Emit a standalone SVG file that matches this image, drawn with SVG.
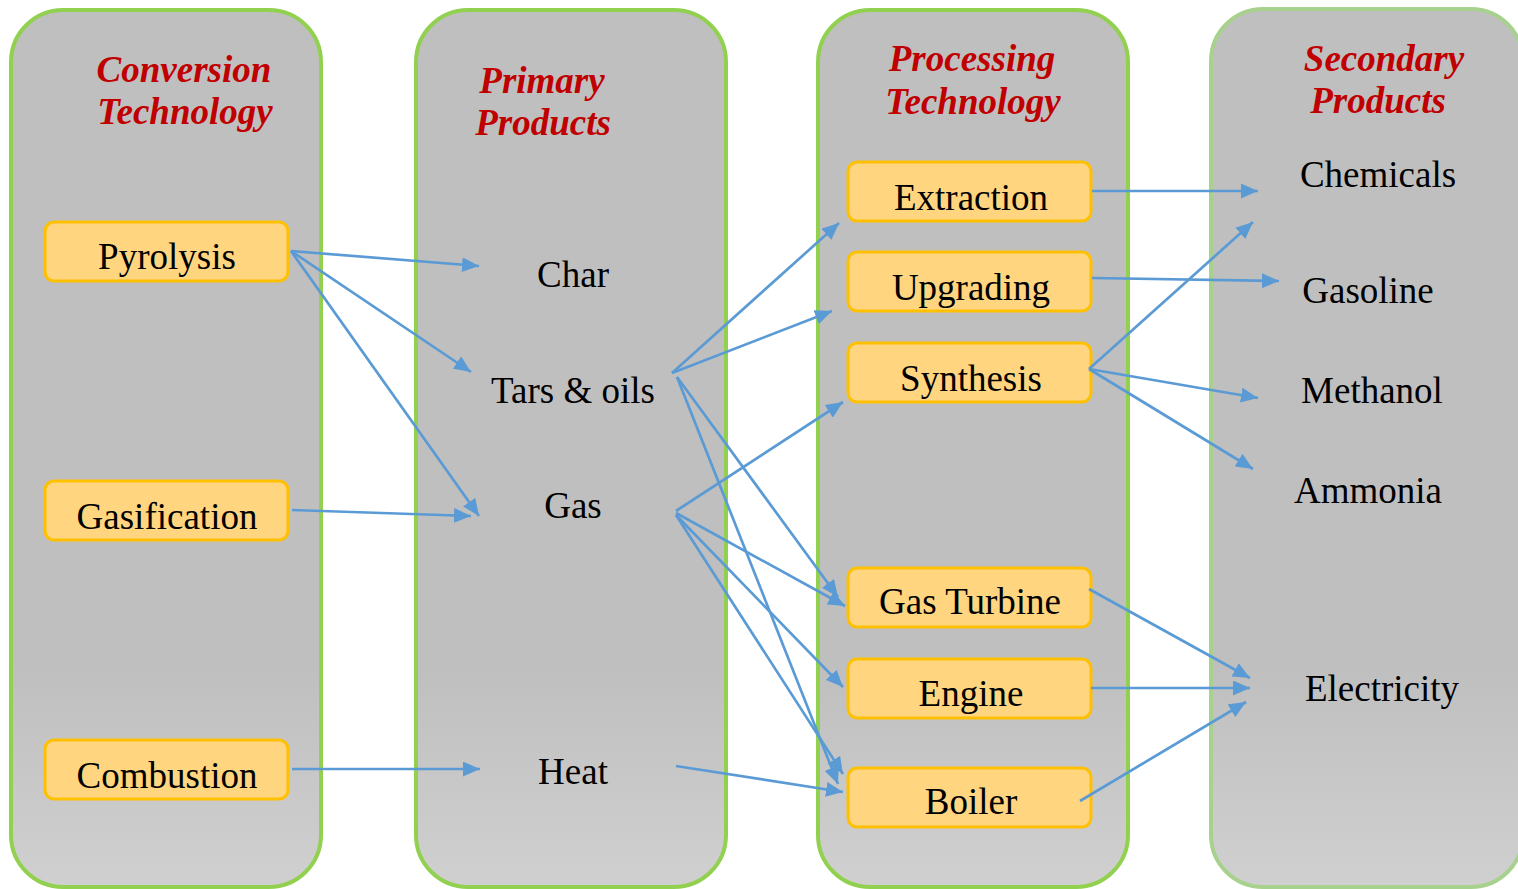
<svg xmlns="http://www.w3.org/2000/svg" width="1518" height="889" viewBox="0 0 1518 889">
<style>
.col{stroke:#92D050;stroke-width:4;fill:url(#colg)}
.col4{stroke:#A9D18E;stroke-width:4;fill:url(#colg)}
.box{fill:#FFD57F;stroke:#FFC000;stroke-width:3}
.hdr{font-family:"Liberation Serif","Times New Roman",serif;font-weight:bold;font-style:italic;font-size:37px;fill:#C00000;text-anchor:middle}
.lbl{font-family:"Liberation Serif","Times New Roman",serif;font-size:37px;fill:#000;text-anchor:middle}
.arr{stroke:#5B9BD5;stroke-width:2.7;fill:none;marker-end:url(#ah)}
</style>
<defs>
<linearGradient id="colg" x1="0" y1="0" x2="0" y2="1">
<stop offset="0" stop-color="#BFBFBF"/>
<stop offset="0.75" stop-color="#BFBFBF"/>
<stop offset="1" stop-color="#D0D0D0"/>
</linearGradient>
<marker id="ah" markerUnits="userSpaceOnUse" markerWidth="17" markerHeight="15" refX="17" refY="7.5" orient="auto">
<path d="M0,0 L17,7.5 L0,15 z" fill="#5B9BD5"/>
</marker>
</defs>
<rect width="1518" height="889" fill="#FFFFFF"/>

<g id="col-conversion">
<rect class="col" x="11" y="10" width="310" height="877" rx="52" ry="52"/>
<text class="hdr" x="184" y="82">Conversion</text>
<text class="hdr" x="185" y="124">Technology</text>
</g>
<g id="col-primary">
<rect class="col" x="416" y="10" width="310" height="877" rx="52" ry="52"/>
<text class="hdr" x="542" y="93">Primary</text>
<text class="hdr" x="543" y="135">Products</text>
</g>
<g id="col-processing">
<rect class="col" x="818" y="10" width="310" height="877" rx="52" ry="52"/>
<text class="hdr" x="972" y="71">Processing</text>
<text class="hdr" x="973" y="114">Technology</text>
</g>
<g id="col-secondary">
<rect class="col4" x="1211" y="9" width="312" height="878" rx="52" ry="52"/>
<text class="hdr" x="1384" y="71">Secondary</text>
<text class="hdr" x="1378" y="113">Products</text>
</g>

<g id="pyrolysis"><rect class="box" x="45" y="222" width="243" height="59" rx="9"/><text class="lbl" x="167" y="269">Pyrolysis</text></g>
<g id="gasification"><rect class="box" x="45" y="481" width="243" height="59" rx="9"/><text class="lbl" x="167" y="529">Gasification</text></g>
<g id="combustion"><rect class="box" x="45" y="740" width="243" height="59" rx="9"/><text class="lbl" x="167" y="788">Combustion</text></g>

<g id="char"><text class="lbl" x="573" y="287">Char</text></g>
<g id="tars"><text class="lbl" x="573" y="403">Tars &amp; oils</text></g>
<g id="gas"><text class="lbl" x="573" y="518">Gas</text></g>
<g id="heat"><text class="lbl" x="573" y="784">Heat</text></g>

<g id="extraction"><rect class="box" x="848" y="162" width="243" height="59" rx="9"/><text class="lbl" x="971" y="210">Extraction</text></g>
<g id="upgrading"><rect class="box" x="848" y="252" width="243" height="59" rx="9"/><text class="lbl" x="971" y="300">Upgrading</text></g>
<g id="synthesis"><rect class="box" x="848" y="343" width="243" height="59" rx="9"/><text class="lbl" x="971" y="391">Synthesis</text></g>
<g id="gasturbine"><rect class="box" x="848" y="568" width="243" height="59" rx="9"/><text class="lbl" x="970" y="614">Gas Turbine</text></g>
<g id="engine"><rect class="box" x="848" y="659" width="243" height="59" rx="9"/><text class="lbl" x="971" y="706">Engine</text></g>
<g id="boiler"><rect class="box" x="848" y="768" width="243" height="59" rx="9"/><text class="lbl" x="971" y="814">Boiler</text></g>

<g id="chemicals"><text class="lbl" x="1378" y="187">Chemicals</text></g>
<g id="gasoline"><text class="lbl" x="1368" y="303">Gasoline</text></g>
<g id="methanol"><text class="lbl" x="1372" y="403">Methanol</text></g>
<g id="ammonia"><text class="lbl" x="1368" y="503">Ammonia</text></g>
<g id="electricity"><text class="lbl" x="1382" y="701">Electricity</text></g>

<g id="connectors">
<line class="arr" x1="291" y1="251" x2="479" y2="266"/>
<line class="arr" x1="291" y1="251" x2="471" y2="372"/>
<line class="arr" x1="291" y1="251" x2="479" y2="516"/>
<line class="arr" x1="292" y1="510" x2="471" y2="516"/>
<line class="arr" x1="292" y1="769" x2="480" y2="769"/>
<line class="arr" x1="672" y1="373" x2="839" y2="223"/>
<line class="arr" x1="672" y1="373" x2="832" y2="311"/>
<line class="arr" x1="677" y1="377" x2="838" y2="597"/>
<line class="arr" x1="677" y1="377" x2="838" y2="784"/>
<line class="arr" x1="676" y1="511" x2="843" y2="402"/>
<line class="arr" x1="676" y1="513" x2="845" y2="606"/>
<line class="arr" x1="676" y1="515" x2="843" y2="687"/>
<line class="arr" x1="676" y1="515" x2="843" y2="774"/>
<line class="arr" x1="676" y1="766" x2="843" y2="792"/>
<line class="arr" x1="1092" y1="191" x2="1258" y2="191"/>
<line class="arr" x1="1092" y1="278" x2="1279" y2="281"/>
<line class="arr" x1="1089" y1="369" x2="1253" y2="222"/>
<line class="arr" x1="1089" y1="369" x2="1258" y2="398"/>
<line class="arr" x1="1089" y1="369" x2="1253" y2="469"/>
<line class="arr" x1="1089" y1="589" x2="1250" y2="678"/>
<line class="arr" x1="1091" y1="688" x2="1250" y2="688"/>
<line class="arr" x1="1080" y1="801" x2="1246" y2="702"/>
</g>
</svg>
